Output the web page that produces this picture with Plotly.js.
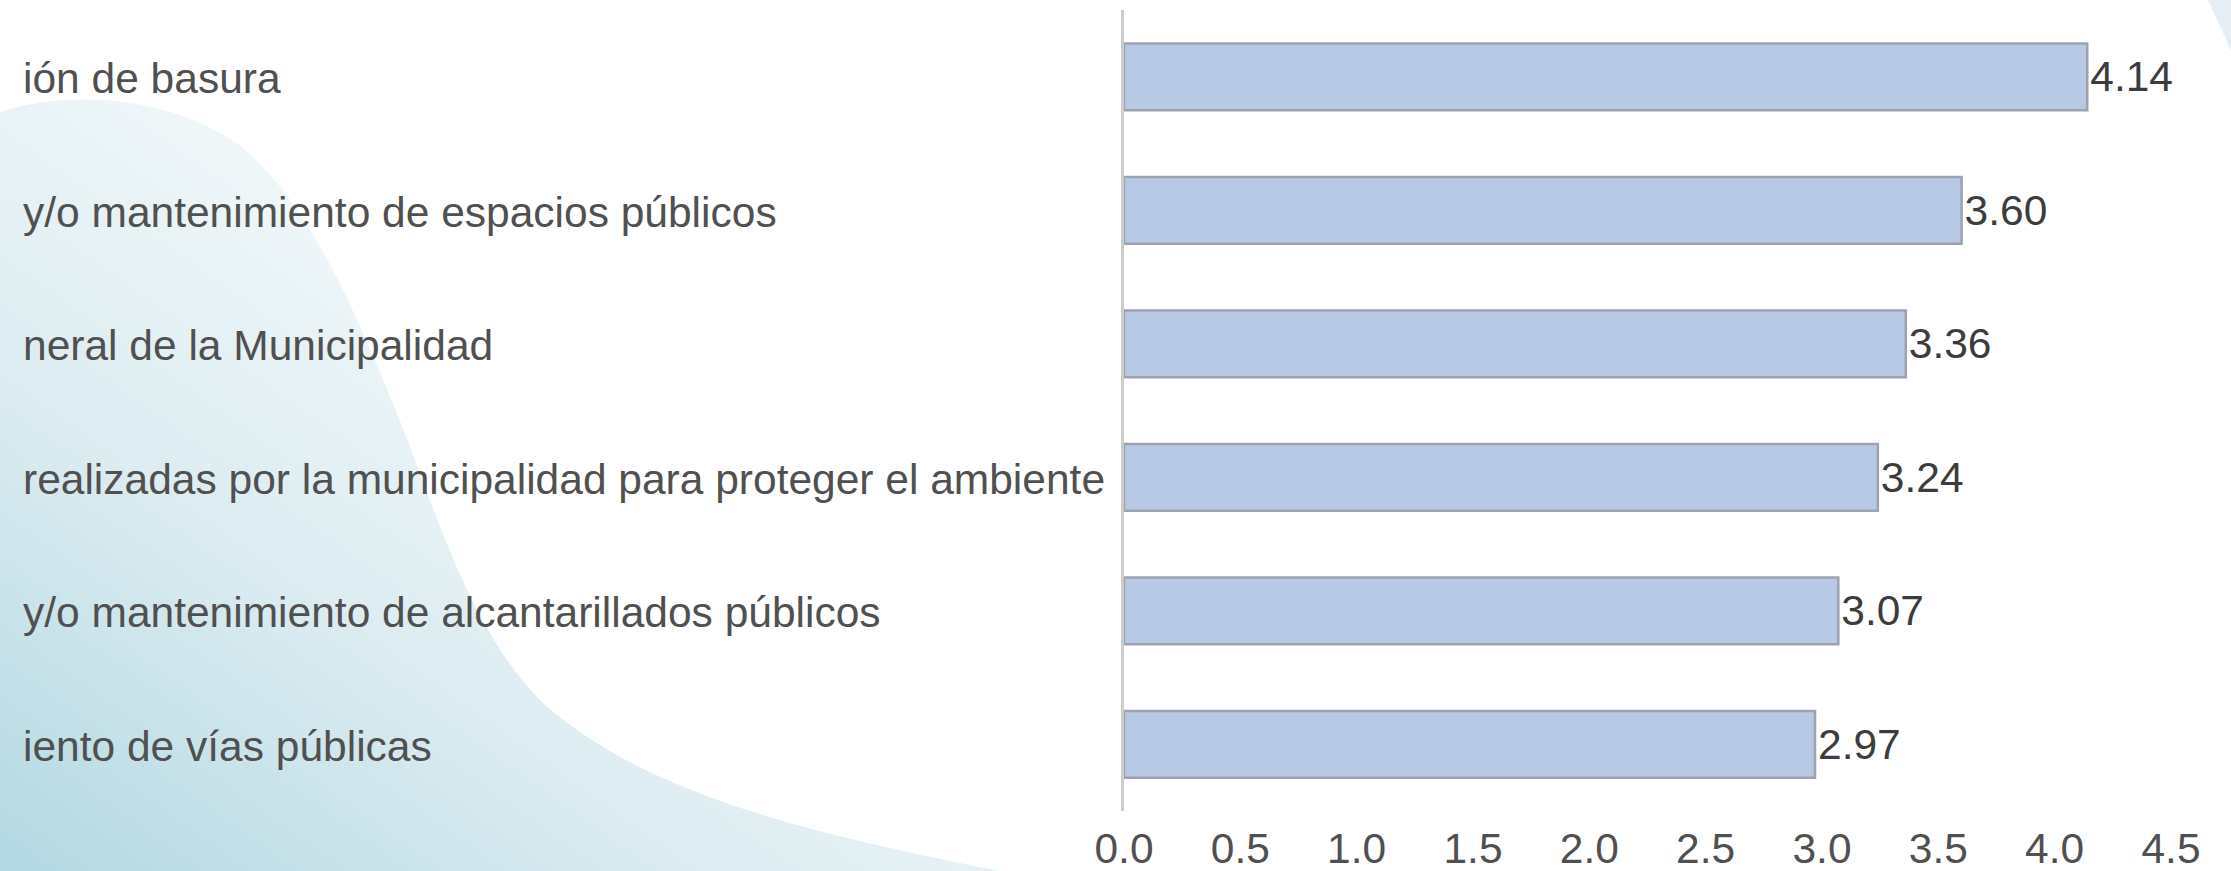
<!DOCTYPE html>
<html>
<head>
<meta charset="utf-8">
<script src="https://cdn.plot.ly/plotly-3.0.1.min.js"></script>
<style>
  html, body { margin: 0; padding: 0; background: #ffffff; }
  #wrap { position: relative; width: 2231px; height: 871px; overflow: hidden; background: #ffffff; }
  #bg { position: absolute; left: 0; top: 0; }
  #chart { position: absolute; left: 0; top: 0; width: 2231px; height: 871px; }
</style>
</head>
<body>
<div id="wrap">
  <svg id="bg" width="2231" height="871" viewBox="0 0 2231 871">
    <defs>
      <linearGradient id="blob" gradientUnits="userSpaceOnUse" x1="0" y1="871" x2="520" y2="140">
        <stop offset="0" stop-color="#b2d8e2"/>
        <stop offset="0.45" stop-color="#dcecf1"/>
        <stop offset="1" stop-color="#f9fcfd"/>
      </linearGradient>
    </defs>
    <path d="M0,112 C60,92 160,92 235,142 C305,195 350,300 388,392 C428,482 462,625 545,705 C645,792 800,832 1000,871 L0,871 Z" fill="url(#blob)"/>
    <path d="M2208,0 L2231,0 L2231,50 Z" fill="#e6eef3"/>
  </svg>
  <div id="chart"></div>
</div>
<script>
// Data (top to bottom as shown)
const categories = [
  "ión de basura",
  "y/o mantenimiento de espacios públicos",
  "neral de la Municipalidad",
  "realizadas por la municipalidad para proteger el ambiente",
  "y/o mantenimiento de alcantarillados públicos",
  "iento de vías públicas"
];
const values = [4.14, 3.60, 3.36, 3.24, 3.07, 2.97];
const xTickValues = [0, 0.5, 1, 1.5, 2, 2.5, 3, 3.5, 4, 4.5];
const xTickLabels = ["0.0", "0.5", "1.0", "1.5", "2.0", "2.5", "3.0", "3.5", "4.0", "4.5"];

const W = 2231, H = 871;
const margin = { l: 1124, r: 60, t: 10, b: 60 };
const plotW = W - margin.l - margin.r;
const labelLeftPx = 21;
const fontFamily = '"Liberation Sans", Arial, "Helvetica Neue", sans-serif';
const fs = 42.5;

const trace = {
  type: 'bar',
  orientation: 'h',
  y: categories,
  x: values,
  marker: { color: '#b8c9e6', line: { color: '#9ca2ae', width: 2.5 } },
  text: values.map(v => v.toFixed(2)),
  textposition: 'outside',
  textfont: { family: fontFamily, size: fs, color: '#3c3c3c' },
  constraintext: 'none',
  cliponaxis: false,
  hoverinfo: 'none'
};

const annotations = categories.map(c => ({
  xref: 'paper', yref: 'y',
  x: (labelLeftPx - margin.l) / plotW, y: c,
  xanchor: 'left', yanchor: 'middle',
  yshift: -2,
  text: c, showarrow: false,
  font: { family: fontFamily, size: fs, color: '#505050' }
}));

const layout = {
  width: W, height: H,
  margin: margin,
  paper_bgcolor: 'rgba(0,0,0,0)',
  plot_bgcolor: 'rgba(0,0,0,0)',
  bargap: 0.5,
  showlegend: false,
  font: { family: fontFamily, size: fs, color: '#505050' },
  xaxis: {
    range: [0, 4.5],
    tickvals: xTickValues,
    ticktext: xTickLabels,
    showgrid: false, zeroline: false, showline: false,
    ticks: '',
    ticklabelstandoff: 8,
    tickfont: { family: fontFamily, size: fs, color: '#505050' },
    fixedrange: true
  },
  yaxis: {
    autorange: 'reversed',
    showticklabels: false,
    showgrid: false, zeroline: false,
    showline: true, linecolor: '#cccccc', linewidth: 3.5,
    ticks: '',
    fixedrange: true
  },
  annotations: annotations
};

Plotly.newPlot('chart', [trace], layout, { displayModeBar: false, staticPlot: true });
</script>
</body>
</html>
